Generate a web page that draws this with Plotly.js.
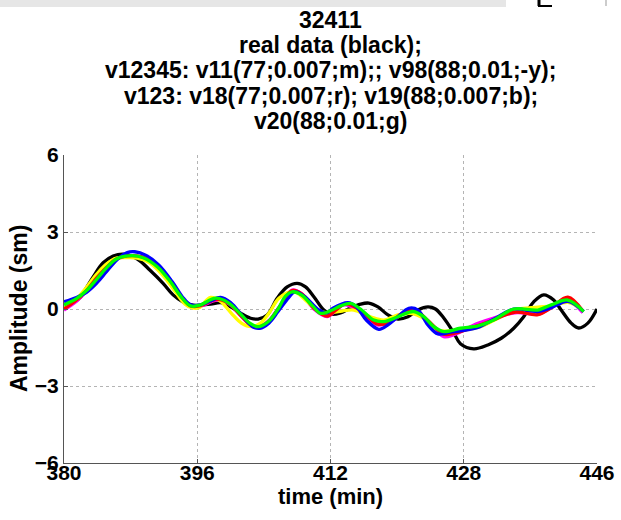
<!DOCTYPE html>
<html>
<head>
<meta charset="utf-8">
<script src="https://cdn.plot.ly/plotly-3.0.1.min.js"></script>
<style>html,body{margin:0;padding:0;background:#fff;}#chart{width:621px;height:520px;}</style>
</head>
<body>
<div id="chart"></div>
<script>
// x tick positions and labels
const xTickVals = [380, 396, 412, 428, 444];
const xTickText = ['380', '396', '412', '428', '446'];
const yTickVals = [-6, -3, 0, 3, 6];

// real data (black)
const blackT = [380.0,381.9,382.3,383.5,384.7,385.9,387.1,388.8,390.3,391.9,393.1,394.3,395.5,397.6,398.8,400.0,401.2,402.4,403.3,404.4,405.6,406.8,408.0,409.0,410.0,411.2,412.0,413.2,414.4,415.6,416.6,417.7,418.9,420.1,421.3,422.5,423.7,424.6,425.6,426.8,427.6,429.2,430.9,432.5,434.0,435.2,436.4,437.6,438.8,439.7,440.9,441.8,442.9,444.0];
const blackV = [0.0,0.43,0.62,1.25,1.8,2.06,2.14,1.95,1.52,1.0,0.55,0.27,0.15,0.19,0.25,0.09,-0.16,-0.36,-0.39,-0.23,0.42,0.86,1.0,0.86,0.48,-0.04,-0.2,-0.15,0.04,0.19,0.23,0.08,-0.23,-0.39,-0.3,-0.04,0.08,0.0,-0.35,-0.93,-1.35,-1.55,-1.4,-1.14,-0.75,-0.3,0.28,0.55,0.35,-0.04,-0.55,-0.74,-0.55,0.0];

// v11 (magenta)
const magentaT = [380.0,381.5,382.7,383.9,385.1,386.3,388.1,389.5,391.2,392.8,394.0,395.2,396.3,398.4,399.8,401.2,402.5,403.4,404.6,405.9,407.4,408.5,410.0,411.6,412.5,413.6,415.6,417.6,418.9,420.9,422.2,423.7,425.6,426.8,429.7,431.6,434.4,436.9,438.5,440.3,442.3];
const magentaV = [-0.04,0.3,0.7,1.2,1.65,1.95,2.05,2.0,1.7,1.1,0.5,0.1,0.1,0.35,0.2,-0.25,-0.65,-0.69,-0.45,0.1,0.74,0.6,0.0,-0.3,-0.1,0.16,-0.1,-0.62,-0.55,-0.15,-0.1,-0.5,-1.08,-1.0,-0.56,-0.35,-0.14,-0.2,0.05,0.38,-0.14];

// v98 (yellow)
const yellowT = [380.0,381.5,382.7,383.9,385.1,386.3,387.6,388.8,390.3,391.9,393.3,394.5,395.4,396.2,397.6,398.8,400.1,401.3,402.5,403.6,404.6,405.8,407.2,408.0,409.2,410.4,411.6,413.4,414.8,416.8,418.4,420.1,421.6,423.2,424.9,426.8,429.7,431.6,434.0,436.9,438.5,440.5,441.9];
const yellowV = [0.04,0.4,0.85,1.35,1.75,1.98,2.0,1.98,1.8,1.3,0.7,0.2,0.04,0.05,0.45,0.3,-0.17,-0.55,-0.69,-0.55,-0.17,0.42,0.67,0.62,0.28,-0.04,-0.15,-0.08,-0.04,-0.3,-0.43,-0.23,-0.17,-0.36,-0.82,-0.85,-0.72,-0.45,-0.05,0.07,0.12,0.26,0.06];

// v18 (red)
const redT = [380.0,381.5,382.7,383.9,385.1,386.3,388.1,389.5,391.2,392.8,394.0,395.2,396.3,398.4,399.8,401.3,402.6,403.5,404.7,405.9,407.4,408.6,410.1,411.6,412.6,413.8,415.6,417.6,418.9,420.9,422.2,423.7,425.6,426.8,429.7,431.6,434.2,436.9,438.5,440.5,442.3];
const redV = [0.0,0.35,0.72,1.2,1.62,1.95,2.08,2.02,1.7,1.1,0.52,0.12,0.12,0.38,0.22,-0.28,-0.66,-0.7,-0.45,0.1,0.72,0.58,0.0,-0.28,-0.05,0.2,-0.05,-0.58,-0.55,-0.12,-0.05,-0.45,-0.98,-0.95,-0.65,-0.42,-0.12,-0.22,0.05,0.46,-0.08];

// v19 (blue)
const blueT = [380.0,381.5,382.7,383.9,385.1,386.3,387.6,388.5,389.8,391.4,393.0,394.2,395.2,396.3,397.5,398.8,400.0,401.5,402.7,403.5,404.6,405.7,407.0,407.7,408.9,410.6,411.6,412.3,414.1,415.1,416.3,417.8,418.9,420.1,421.4,422.5,423.7,424.9,426.4,427.6,429.7,431.6,434.0,436.9,438.5,440.5,442.4];
const blueV = [0.28,0.45,0.65,1.0,1.45,1.9,2.2,2.23,2.1,1.71,1.06,0.48,0.16,0.15,0.3,0.45,0.25,-0.3,-0.7,-0.75,-0.55,-0.1,0.45,0.67,0.48,-0.04,-0.15,0.03,0.25,0.09,-0.43,-0.79,-0.62,-0.3,0.03,-0.04,-0.62,-0.97,-0.9,-0.85,-0.72,-0.4,0.0,-0.1,0.05,0.3,-0.1];

// v20 (green)
const greenT = [380.0,381.5,382.7,383.9,385.1,386.3,388.1,389.5,391.2,392.8,394.0,395.2,396.3,398.2,399.7,401.2,402.3,403.3,404.5,405.7,406.6,407.4,408.5,409.9,410.8,412.0,413.2,414.4,415.6,417.2,418.4,420.1,421.3,422.0,423.2,424.4,425.6,427.6,429.7,431.6,434.0,436.9,438.5,440.5,442.4];
const greenV = [0.16,0.4,0.72,1.15,1.6,1.95,2.08,2.0,1.65,1.05,0.5,0.12,0.15,0.42,0.25,-0.2,-0.55,-0.69,-0.5,0.0,0.5,0.67,0.55,0.1,-0.17,-0.07,0.12,0.22,0.0,-0.43,-0.49,-0.3,-0.14,-0.1,-0.3,-0.69,-0.88,-0.75,-0.66,-0.43,0.0,-0.04,0.16,0.35,-0.1];

const titleLines = ['32411', 'real data (black);', 'v12345: v11(77;0.007;m);; v98(88;0.01;-y);', 'v123: v18(77;0.007;r); v19(88;0.007;b);', 'v20(88;0.01;g)'];
const titleLineY = [20, 45, 70, 96, 121]; // pixel centres of the title lines
const xTitle = 'time (min)';
const yTitle = 'Amplitude (sm)';

function tr(x, y, color) {
  return {x: x, y: y, type: 'scatter', mode: 'lines', line: {color: color, width: 3.3, shape: 'spline', smoothing: 1}, hoverinfo: 'skip'};
}

const data = [
  tr(blackT, blackV, '#000000'),
  tr(magentaT, magentaV, '#ff00ff'),
  tr(yellowT, yellowV, '#ffff00'),
  tr(redT, redV, '#ff0000'),
  tr(blueT, blueV, '#0000ff'),
  tr(greenT, greenV, '#00ff00')
];

const F = 'Liberation Sans, Arial, sans-serif';
const TICKFS = 21;
const plotTop = 155, plotBottom = 463, plotLeft = 64, plotW = 533, plotH = 308;
const py = p => (plotBottom - p) / plotH;
const px = p => (p - plotLeft) / plotW;

const annotations = titleLines.map((t, i) => ({
  text: t, xref: 'paper', yref: 'paper', x: 0.5, y: py(titleLineY[i]), xanchor: 'center', yanchor: 'middle',
  showarrow: false, font: {family: F, size: 23, color: '#000', weight: 700}
}));
annotations.push({text: xTitle, xref: 'paper', yref: 'paper', x: 0.5, y: py(496), xanchor: 'center', yanchor: 'middle',
  showarrow: false, font: {family: F, size: 22, color: '#000', weight: 700}});
annotations.push({text: yTitle, xref: 'paper', yref: 'paper', x: px(19), y: 0.5, xanchor: 'center', yanchor: 'middle', textangle: -90,
  showarrow: false, font: {family: F, size: 23, color: '#000', weight: 700}});

const layout = {
  width: 621, height: 520,
  margin: {l: 64, r: 24, t: 155, b: 57, pad: 0},
  paper_bgcolor: '#ffffff', plot_bgcolor: '#ffffff',
  showlegend: false,
  font: {family: F, size: TICKFS, color: '#000', weight: 700},
  annotations: annotations,
  xaxis: {range: [380, 444], tickvals: xTickVals, ticktext: xTickText, showgrid: true, gridcolor: '#b4b4b4', griddash: 'dot', gridwidth: 1,
          showline: true, linecolor: '#555', linewidth: 1, ticks: 'inside', ticklen: 4, tickcolor: '#555', zeroline: false,
          tickfont: {family: F, size: TICKFS, weight: 700}, ticklabelstandoff: -9},
  yaxis: {range: [-6, 6], tickvals: yTickVals, showgrid: true, gridcolor: '#b4b4b4', griddash: 'dot', gridwidth: 1,
          showline: true, linecolor: '#555', linewidth: 1, ticks: 'inside', ticklen: 4, tickcolor: '#555', zeroline: false,
          tickfont: {family: F, size: TICKFS, weight: 700}, ticklabelstandoff: 0},
  shapes: [
    {type: 'rect', xref: 'paper', yref: 'paper', x0: px(0), x1: px(506), y0: py(7), y1: py(0), fillcolor: '#e6e6e6', line: {width: 0}, layer: 'below'},
    {type: 'line', xref: 'paper', yref: 'paper', x0: px(539), x1: px(539), y0: py(6), y1: py(0), line: {color: '#000', width: 3}},
    {type: 'line', xref: 'paper', yref: 'paper', x0: px(538), x1: px(552), y0: py(6), y1: py(6), line: {color: '#000', width: 2}},
    {type: 'line', xref: 'paper', yref: 'paper', x0: px(606), x1: px(606), y0: py(6), y1: py(0), line: {color: '#999', width: 1}}
  ]
};

Plotly.newPlot('chart', data, layout, {displayModeBar: false, staticPlot: true});
</script>
</body>
</html>
